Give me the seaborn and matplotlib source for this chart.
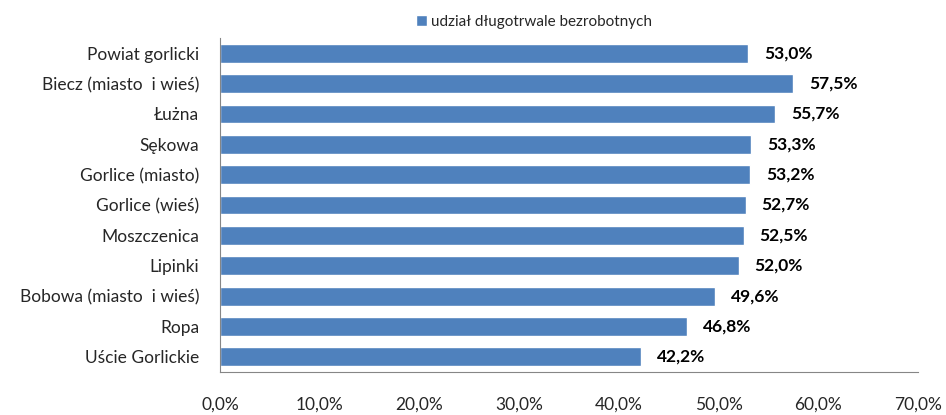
import numpy as np
import pandas as pd
import matplotlib
matplotlib.use("Agg")
import matplotlib.pyplot as plt
import seaborn as sns

# data
gminy = ["Powiat gorlicki", "Biecz (miasto  i wieś)", "Łużna", "Sękowa",
         "Gorlice (miasto)", "Gorlice (wieś)", "Moszczenica", "Lipinki",
         "Bobowa (miasto  i wieś)", "Ropa", "Uście Gorlickie"]
udzial = [53.0, 57.5, 55.7, 53.3, 53.2, 52.7, 52.5, 52.0, 49.6, 46.8, 42.2]
xticks = [0, 10, 20, 30, 40, 50, 60, 70]
seria = "udział długotrwale bezrobotnych"

df = pd.DataFrame({"gmina": gminy, "udzial": udzial})

sns.set_style("white")
plt.rcParams["font.family"] = ["Lato", "DejaVu Sans"]

fig = plt.figure(figsize=(9.46, 4.15), dpi=100)
ax = fig.add_axes([0.2326, 0.1036, 0.7378, 0.8048])

sns.barplot(data=df, x="udzial", y="gmina", orient="h", color="#4F81BD",
            saturation=1, width=0.62, ax=ax, label=seria)

for i, v in enumerate(udzial):
    ax.text(v + 1.6, i, f"{v:.1f}%".replace(".", ","), va="center", ha="left",
            fontsize=12.5, fontweight="bold", color="black")

ax.set_xlim(0, 70)
ax.set_ylim(len(gminy) - 0.5, -0.5)
ax.set_xticks(xticks)
ax.set_xticklabels([f"{t:.1f}%".replace(".", ",") for t in xticks], fontsize=12.5)
ax.tick_params(axis="x", direction="out", length=3.6, width=1, color="#868686", pad=14)

# y ticks between categories
ax.set_yticks(range(len(gminy)))
ax.set_yticklabels(gminy, fontsize=12.5)
ax.set_yticks(np.arange(-0.5, len(gminy), 1), minor=True)
ax.tick_params(axis="y", which="major", length=0, pad=15)
ax.tick_params(axis="y", which="minor", direction="out", length=3.6, width=1, color="#868686")
ax.set_xlabel("")
ax.set_ylabel("")

for s in ["top", "right"]:
    ax.spines[s].set_visible(False)
for s in ["left", "bottom"]:
    ax.spines[s].set_color("#868686")

ax.legend(loc="lower center", bbox_to_anchor=(0.45, 1.0), frameon=False,
          fontsize=11, handlelength=0.7, handleheight=0.7, handletextpad=0.3,
          borderaxespad=0.2)

fig.savefig("out.png", dpi=100)
